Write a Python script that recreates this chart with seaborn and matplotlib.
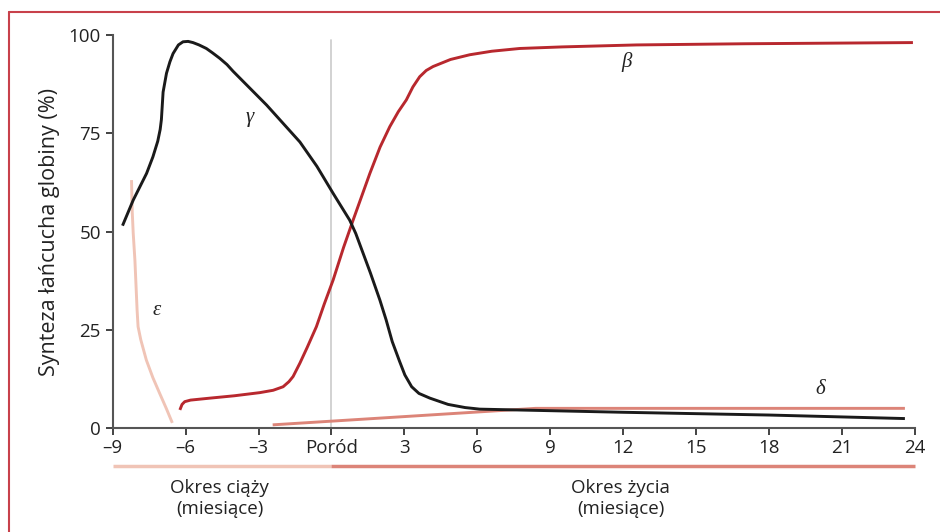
import numpy as np
import pandas as pd
import matplotlib.pyplot as plt
from matplotlib.lines import Line2D
import seaborn as sns

# Gamma chain (black)
gamma_x = [-8.60, -8.16, -7.61, -7.35, -7.15, -7.05, -7.00, -6.97, -6.93, -6.79, -6.65, -6.52,
           -6.30, -6.11, -5.90, -5.70, -5.45, -5.15, -4.90, -4.60, -4.30, -4.05, -2.67, -1.30,
           -0.60, 0.07, 0.75, 1.00, 1.30, 1.60, 1.99, 2.25, 2.50, 2.80, 3.02, 3.30, 3.60, 4.05,
           4.80, 5.50, 6.10, 12.0, 18.0, 23.6]
gamma_y = [51.5, 58.0, 64.8, 69.0, 73.0, 76.0, 78.5, 81.5, 85.5, 90.3, 93.2, 95.3,
           97.5, 98.3, 98.4, 98.1, 97.5, 96.6, 95.5, 94.1, 92.5, 90.8, 82.2, 72.8,
           66.6, 59.7, 52.9, 49.5, 44.5, 39.5, 32.6, 27.5, 22.0, 17.0, 13.5, 10.5, 8.8, 7.6,
           6.0, 5.2, 4.8, 4.0, 3.3, 2.4]

# Beta chain (red)
beta_x = [-6.24, -6.15, -6.04, -5.80, -5.00, -4.00, -2.95, -2.40, -1.99, -1.75, -1.58, -1.30,
          -1.00, -0.62, -0.30, 0.07, 0.50, 0.89, 1.58, 2.00, 2.40, 2.75, 3.08, 3.35, 3.63,
          3.90, 4.18, 4.90, 5.69, 6.60, 7.75, 9.50, 12.55, 17.0, 23.93]
beta_y = [4.6, 6.0, 6.7, 7.1, 7.6, 8.2, 9.0, 9.6, 10.5, 11.8, 13.1, 16.5,
          20.5, 25.8, 31.5, 37.7, 46.0, 52.9, 64.8, 71.5, 76.7, 80.5, 83.5, 86.8, 89.4,
          91.0, 92.0, 93.8, 95.0, 95.9, 96.6, 97.0, 97.5, 97.8, 98.1]

# Epsilon chain (light pink)
eps_x = [-8.23, -8.20, -8.16, -8.09, -8.00, -7.96, -7.85, -7.62, -7.35, -7.07, -6.80, -6.55]
eps_y = [63.1, 55.0, 49.6, 42.7, 30.0, 25.8, 22.5, 17.3, 12.8, 8.8, 5.0, 1.3]

# Delta chain (salmon)
delta_x = [-2.42, 8.4, 23.6]
delta_y = [0.8, 5.0, 5.0]

xticks = [-9, -6, -3, 0, 3, 6, 9, 12, 15, 18, 21, 24]
xlabels = ["\u20139", "\u20136", "\u20133", "Poród", "3", "6", "9", "12", "15", "18", "21", "24"]
yticks = [0, 25, 50, 75, 100]

sns.set_style("white")
plt.rcParams["font.family"] = ["Open Sans", "DejaVu Sans"]

fig = plt.figure(figsize=(9.4, 5.32), dpi=100)
ax = fig.add_axes([0.120, 0.1955, 0.853, 0.7385])

series = [
    (eps_x, eps_y, "#f0c4b6"),
    (delta_x, delta_y, "#dc8478"),
    (beta_x, beta_y, "#b8282e"),
    (gamma_x, gamma_y, "#1a1a1a"),
]
for xs, ys, col in series:
    df = pd.DataFrame({"x": xs, "y": ys})
    sns.lineplot(data=df, x="x", y="y", color=col, linewidth=2.1, ax=ax,
                 sort=False, estimator=None, clip_on=False,
                 solid_joinstyle="round", solid_capstyle="butt")

ax.axvline(0, ymin=0, ymax=0.987, color="#cfcfcf", linewidth=1.3, zorder=0)

ax.set_xlim(-9, 24)
ax.set_ylim(0, 100)
ax.set_xticks(xticks)
ax.set_xticklabels(xlabels)
ax.set_yticks(yticks)
ax.tick_params(axis="both", labelsize=13.5, colors="#222222", length=5, width=1.2,
               direction="out", left=True, bottom=True)
ax.tick_params(axis="x", pad=3)
ax.set_xlabel("")
ax.set_ylabel("Synteza łańcucha globiny (%)", fontsize=15.5, color="#222222", labelpad=6)
sns.despine(ax=ax)
for s in ["left", "bottom"]:
    ax.spines[s].set_color("#555555")
    ax.spines[s].set_linewidth(1.5)

greek = {"family": ["Liberation Serif"], "style": "italic", "fontsize": 15, "color": "#222222"}
ax.text(-3.36, 79, "γ", ha="center", va="center", **greek)
ax.text(12.15, 93.1, "β", ha="center", va="center", **greek)
ax.text(-7.19, 30, "ε", ha="center", va="center", **greek)
ax.text(20.1, 9.7, "δ", ha="center", va="center", **greek)

# Period bars under the axis
ax.plot([-9, 0], [-9.7, -9.7], color="#f0c4b6", linewidth=2.5, clip_on=False,
        solid_capstyle="butt")
ax.plot([0, 24], [-9.7, -9.7], color="#dc8478", linewidth=2.5, clip_on=False,
        solid_capstyle="butt")
ax.text(-4.6, -18, "Okres ciąży\n(miesiące)", ha="center", va="center",
        fontsize=13.5, color="#222222", linespacing=1.2)
ax.text(11.9, -18, "Okres życia\n(miesiące)", ha="center", va="center",
        fontsize=13.5, color="#222222", linespacing=1.2)

# Frame around figure
fig.add_artist(Line2D([9 / 940, 1.0], [1 - 12 / 532, 1 - 12 / 532],
                      color="#c8414b", linewidth=1.5, transform=fig.transFigure))
fig.add_artist(Line2D([9 / 940, 9 / 940], [0, 1 - 12 / 532],
                      color="#c8414b", linewidth=1.5, transform=fig.transFigure))

fig.savefig("out.png", dpi=100)
